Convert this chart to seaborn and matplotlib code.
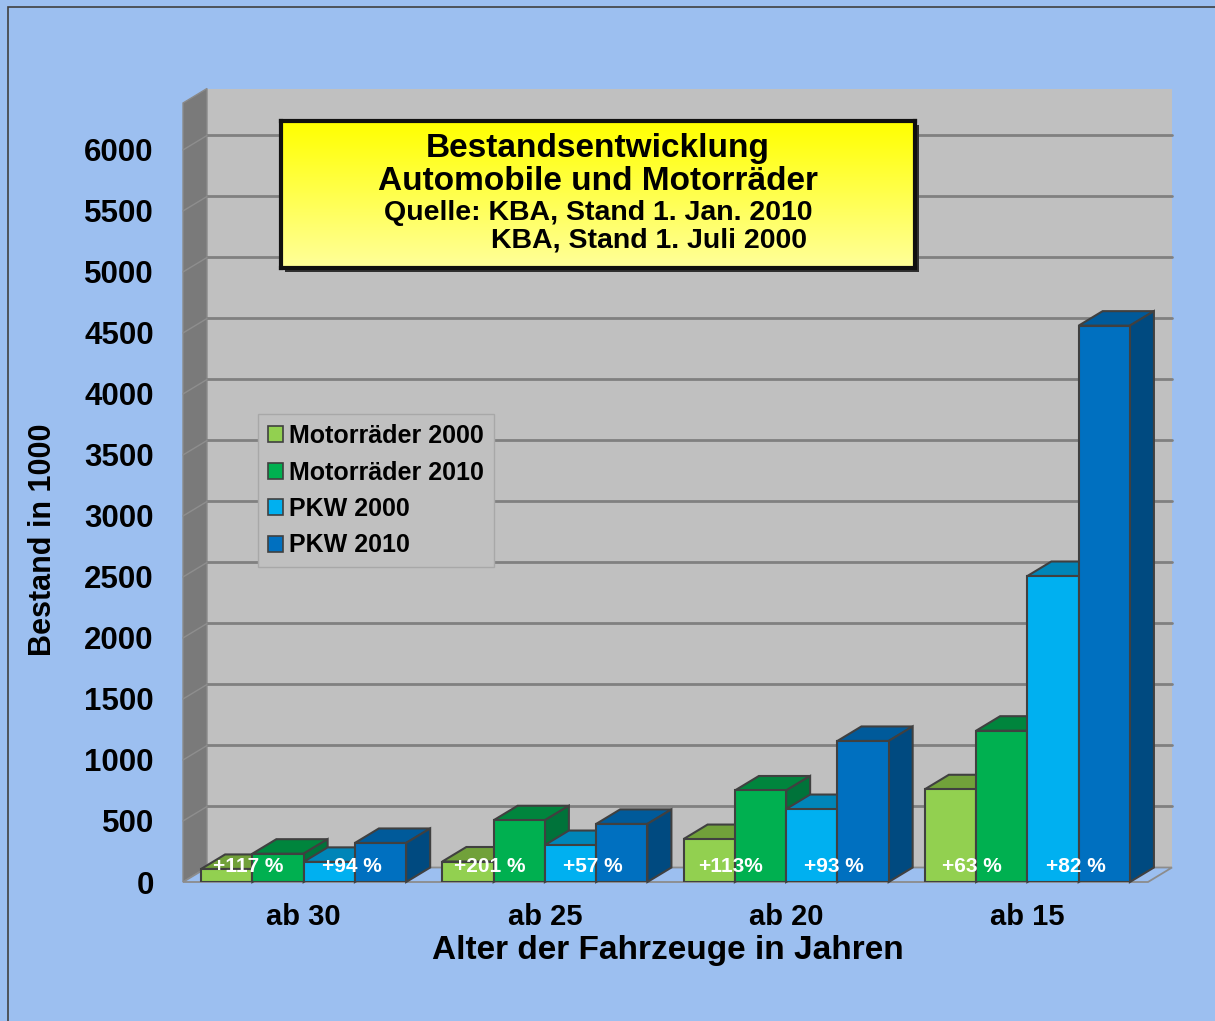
import numpy as np
import pandas as pd
import seaborn as sns
import matplotlib.pyplot as plt
from matplotlib.patches import Polygon, Rectangle, Patch
from matplotlib.colors import LinearSegmentedColormap

# chart data (Bestand in 1000)
alter = ["ab 30", "ab 25", "ab 20", "ab 15"]
serien = ["Motorräder 2000", "Motorräder 2010", "PKW 2000", "PKW 2010"]
motorrad_2000 = [107, 168, 352, 760]
motorrad_2010 = [232, 506, 750, 1240]
pkw_2000 = [165, 303, 598, 2508]
pkw_2010 = [320, 476, 1156, 4560]
zuwachs_motorrad = ["+117 %", "+201 %", "+113%", "+63 %"]
zuwachs_pkw = ["+94 %", "+57 %", "+93 %", "+82 %"]
y_ticks = list(range(0, 6001, 500))

front_col = ["#92D050", "#00B050", "#00B0F0", "#0070C0"]
top_col = ["#71A13A", "#00853D", "#0085B8", "#005A9A"]
side_col = ["#5E8A2E", "#00733A", "#0077A8", "#004A80"]
bg = "#9CBFF0"

sns.set_style("white")
plt.rcParams["font.family"] = ["Liberation Sans", "DejaVu Sans"]
plt.rcParams["font.weight"] = "bold"
plt.rcParams["axes.labelweight"] = "bold"
plt.rcParams["text.color"] = "black"
plt.rcParams["axes.labelcolor"] = "black"
plt.rcParams["xtick.labelcolor"] = "black"
plt.rcParams["ytick.labelcolor"] = "black"

df = pd.DataFrame({
    "Alter": alter * 4,
    "Serie": np.repeat(serien, 4),
    "Bestand": motorrad_2000 + motorrad_2010 + pkw_2000 + pkw_2010,
})

W, H = 1215, 1021
fig = plt.figure(figsize=(W / 100, H / 100), dpi=100)
fig.patch.set_facecolor(bg)

# front plane of the 3d box in pixels
L, R, B, T = 183, 1148, 882, 103
YMAX = 6385
ax = fig.add_axes([L / W, 1 - B / H, (R - L) / W, (B - T) / H])
ax.set_facecolor("none")

sns.barplot(data=df, x="Alter", y="Bestand", hue="Serie", palette=front_col,
            width=0.85, saturation=1, edgecolor="#404040", linewidth=1.5,
            legend=False, ax=ax)
ax.set_xlim(-0.5, 3.5)
ax.set_ylim(0, YMAX)

# depth offset of the 3d effect, in data units
DX = 24 * 4 / (R - L)
DY = 14.5 * YMAX / (B - T)

bars = []
for k, cont in enumerate(ax.containers):
    for p in cont:
        bars.append((p.get_x(), k, p))
bars.sort(key=lambda b: b[0])
for i, (x0, k, p) in enumerate(bars):
    w, h = p.get_width(), p.get_height()
    z = 2 + i * 0.01
    p.set_zorder(z + 0.005)
    ax.add_patch(Polygon([(x0, h), (x0 + w, h), (x0 + w + DX, h + DY), (x0 + DX, h + DY)],
                         fc=top_col[k], ec="#404040", lw=1.5, zorder=z, clip_on=False))
    ax.add_patch(Polygon([(x0 + w, 0), (x0 + w + DX, DY), (x0 + w + DX, h + DY), (x0 + w, h)],
                         fc=side_col[k], ec="#404040", lw=1.5, zorder=z, clip_on=False))

# walls and floor
ax.add_patch(Rectangle((-0.5 + DX, DY), 4, YMAX, fc="#C0C0C0", ec="none", zorder=0.1, clip_on=False))
ax.add_patch(Polygon([(-0.5, 0), (-0.5 + DX, DY), (-0.5 + DX, YMAX + DY), (-0.5, YMAX)],
                     fc="#7A7A7A", ec="#8A8A8A", lw=1, zorder=0.2, clip_on=False))
ax.add_patch(Polygon([(-0.5, 0), (3.5, 0), (3.5 + DX, DY), (-0.5 + DX, DY)],
                     fc=bg, ec="#8C8C8C", lw=1.3, zorder=0.3, clip_on=False))
for v in y_ticks[1:]:
    ax.plot([-0.5 + DX, 3.5 + DX], [v + DY, v + DY], color="#808080", lw=2, zorder=0.4, clip_on=False)
    ax.plot([-0.5, -0.5 + DX], [v, v + DY], color="#8E8E8E", lw=1, zorder=0.4, clip_on=False)

for i in range(len(alter)):
    ax.text(i - 0.23, 130, zuwachs_motorrad[i], ha="center", va="center",
            color="white", fontsize=15, fontweight="bold", zorder=20)
    ax.text(i + 0.2, 130, zuwachs_pkw[i], ha="center", va="center",
            color="white", fontsize=15, fontweight="bold", zorder=20)

for s in ax.spines.values():
    s.set_visible(False)
ax.grid(False)
ax.set_yticks(y_ticks)
ax.set_yticklabels([str(v) for v in y_ticks])
ax.tick_params(axis="y", length=6, width=1.5, color="#808080", pad=15, labelsize=22.5)
ax.set_xticks(range(len(alter)))
ax.set_xticklabels(alter)
ax.tick_params(axis="x", which="major", length=0, pad=15, labelsize=21)
ax.set_xticks(np.arange(-0.5, 4, 1), minor=True)
ax.tick_params(axis="x", which="minor", length=6, width=1.5, color="#808080")

ax.set_xlabel("Alter der Fahrzeuge in Jahren", fontsize=24, fontweight="bold")
ax.xaxis.label.set_va("center")
ax.xaxis.set_label_coords((668 - L) / (R - L), (B - 950) / (B - T))
ax.set_ylabel("Bestand in 1000", fontsize=22, fontweight="bold")
ax.yaxis.label.set_va("center")
ax.yaxis.set_label_coords((43 - L) / (R - L), (B - 540) / (B - T))

# legend
handles = [Patch(fc=c, ec="#404040", lw=1.2) for c in front_col]
fig.legend(handles, serien, loc="upper left", bbox_to_anchor=(258 / W, 1 - 414 / H),
           frameon=True, fancybox=False, facecolor="#C0C0C0", edgecolor="#A8A8A8",
           framealpha=1, prop={"weight": "bold", "size": 18}, handlelength=0.6,
           handleheight=0.6, handletextpad=0.25, labelspacing=0.5, borderpad=0.4,
           borderaxespad=0)

# title box
bx0, by0, bx1, by1 = 281, 121, 915, 268
shadow = Rectangle(((bx0 + 4) / W, 1 - (by1 + 4) / H), (bx1 - bx0) / W, (by1 - by0) / H,
                   transform=fig.transFigure, fc="#303030", ec="none", zorder=0.5)
fig.add_artist(shadow)
tax = fig.add_axes([bx0 / W, 1 - by1 / H, (bx1 - bx0) / W, (by1 - by0) / H])
tax.set_zorder(1)
cmap = LinearSegmentedColormap.from_list("gelb", ["#FFFF00", "#FFFF9A"])
tax.imshow(np.linspace(0, 1, 100)[:, None], cmap=cmap, aspect="auto", extent=[0, 1, 0, 1])
tax.set_xticks([])
tax.set_yticks([])
for s in tax.spines.values():
    s.set_color("#101010")
    s.set_linewidth(3)


def tpos(px, py):
    return (px - bx0) / (bx1 - bx0), (by1 - py) / (by1 - by0)


title_lines = [
    ("Bestandsentwicklung", 598, 149, 24),
    ("Automobile und Motorräder", 598, 182, 24),
    ("Quelle: KBA, Stand 1. Jan. 2010", 598, 213, 20.5),
    ("KBA, Stand 1. Juli 2000", 649, 240, 20.5),
]
for txt, px, py, fs in title_lines:
    tx, ty = tpos(px, py)
    tax.text(tx, ty, txt, transform=tax.transAxes, ha="center", va="center",
             fontsize=fs, fontweight="bold", color="black")

# outer frame
fig.add_artist(Rectangle((8 / W, -0.01), 1.0, 1 - 7 / H + 0.01, transform=fig.transFigure,
                         fill=False, ec="#404040", lw=1.2))

fig.savefig("out.png", dpi=100, facecolor=fig.get_facecolor())
